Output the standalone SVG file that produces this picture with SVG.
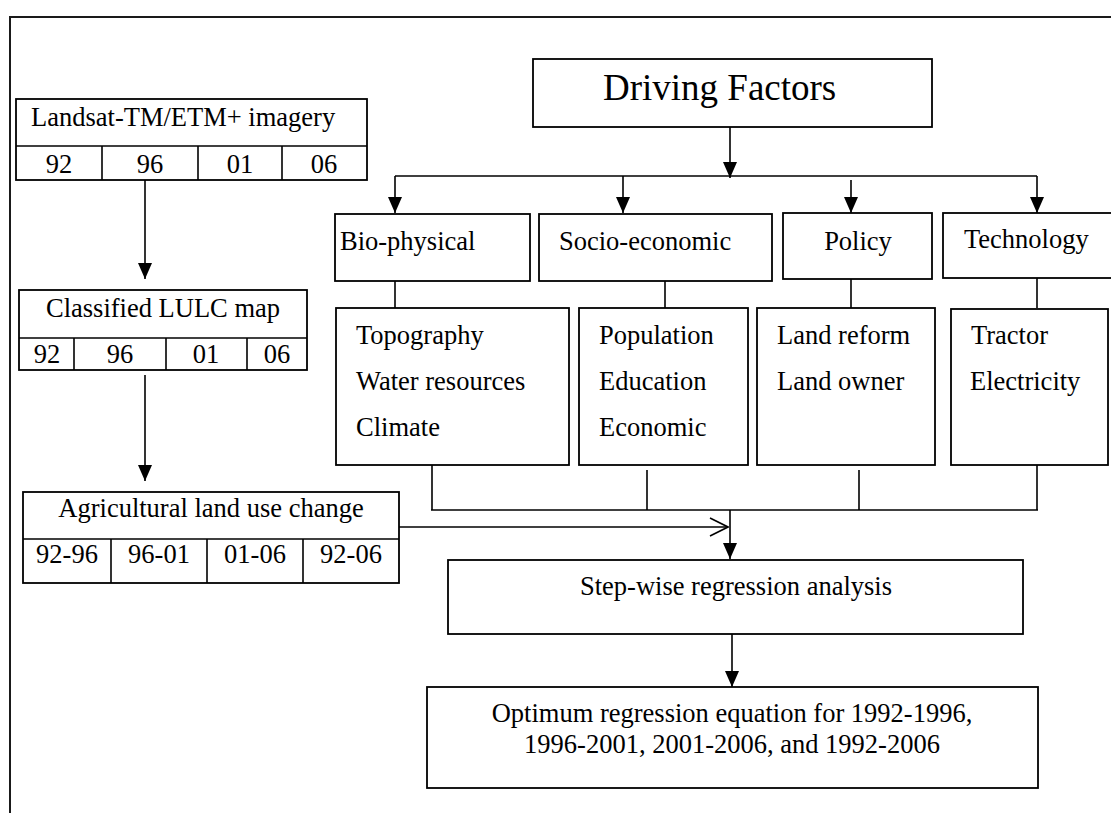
<svg xmlns="http://www.w3.org/2000/svg" width="1111" height="813" viewBox="0 0 1111 813">
  <style>
    .box { fill: #ffffff; stroke: #000000; stroke-width: 1.8; }
    .ln { fill: none; stroke: #000000; stroke-width: 1.6; }
    .frame { fill: none; stroke: #1a1a1a; stroke-width: 2; }
    text { font-family: "Liberation Serif", "Times New Roman", serif; font-size: 26.5px; fill: #000000; }
    .c { text-anchor: middle; }
    .big { font-size: 37px; }
  </style>
  <defs>
    <marker id="arrow" viewBox="0 0 16 14" refX="16" refY="7" markerWidth="16" markerHeight="14" markerUnits="userSpaceOnUse" orient="auto">
      <path d="M0,0 L16,7 L0,14 Z" fill="#000000"/>
    </marker>
    <marker id="open" viewBox="0 0 20 20" refX="19" refY="10" markerWidth="20" markerHeight="20" markerUnits="userSpaceOnUse" orient="auto">
      <path d="M1,1 L19,10 L1,19" fill="none" stroke="#000000" stroke-width="1.6"/>
    </marker>
  </defs>

  <rect width="1111" height="813" fill="#ffffff"/>

  <!-- page frame -->
  <path class="frame" d="M10,813 L10,17 L1111,17"/>

  <!-- connectors -->
  <g id="connectors">
    <line class="ln" x1="145" y1="180" x2="145" y2="279" marker-end="url(#arrow)"/>
    <line class="ln" x1="145" y1="375" x2="145" y2="481" marker-end="url(#arrow)"/>
    <line class="ln" x1="730" y1="127" x2="730" y2="178" marker-end="url(#arrow)"/>
    <line class="ln" x1="395" y1="176" x2="1037" y2="176"/>
    <line class="ln" x1="395" y1="176" x2="395" y2="213" marker-end="url(#arrow)"/>
    <line class="ln" x1="623" y1="176" x2="623" y2="213" marker-end="url(#arrow)"/>
    <line class="ln" x1="851" y1="180" x2="851" y2="213" marker-end="url(#arrow)"/>
    <line class="ln" x1="1037" y1="176" x2="1037" y2="213" marker-end="url(#arrow)"/>
    <line class="ln" x1="395" y1="280" x2="395" y2="308"/>
    <line class="ln" x1="665" y1="280" x2="665" y2="308"/>
    <line class="ln" x1="851" y1="279" x2="851" y2="308"/>
    <line class="ln" x1="1037" y1="278" x2="1037" y2="308"/>
    <line class="ln" x1="432" y1="465" x2="432" y2="510"/>
    <line class="ln" x1="647" y1="470" x2="647" y2="510"/>
    <line class="ln" x1="859" y1="470" x2="859" y2="510"/>
    <line class="ln" x1="1037" y1="465" x2="1037" y2="510"/>
    <line class="ln" x1="431" y1="510" x2="1038" y2="510"/>
    <line class="ln" x1="399" y1="527" x2="728" y2="527" marker-end="url(#open)"/>
    <line class="ln" x1="730" y1="510" x2="730" y2="559" marker-end="url(#arrow)"/>
    <line class="ln" x1="732" y1="634" x2="732" y2="687" marker-end="url(#arrow)"/>
  </g>

  <!-- imagery -->
  <g id="landsat">
    <rect class="box" x="16" y="99" width="351" height="81"/>
    <line class="ln" x1="16" y1="146" x2="367" y2="146"/>
    <line class="ln" x1="102" y1="146" x2="102" y2="180"/>
    <line class="ln" x1="198" y1="146" x2="198" y2="180"/>
    <line class="ln" x1="282" y1="146" x2="282" y2="180"/>
    <text x="31" y="126">Landsat-TM/ETM+ imagery</text>
    <text class="c" x="59" y="173">92</text>
    <text class="c" x="150" y="173">96</text>
    <text class="c" x="240" y="173">01</text>
    <text class="c" x="324" y="173">06</text>
  </g>

  <g id="classified">
    <rect class="box" x="19" y="290" width="288" height="80"/>
    <line class="ln" x1="19" y1="338" x2="307" y2="338"/>
    <line class="ln" x1="74" y1="338" x2="74" y2="370"/>
    <line class="ln" x1="166" y1="338" x2="166" y2="370"/>
    <line class="ln" x1="247" y1="338" x2="247" y2="370"/>
    <text class="c" x="163" y="317">Classified LULC map</text>
    <text class="c" x="47" y="363">92</text>
    <text class="c" x="120" y="363">96</text>
    <text class="c" x="206" y="363">01</text>
    <text class="c" x="277" y="363">06</text>
  </g>

  <g id="agri-change">
    <rect class="box" x="23" y="492" width="376" height="91"/>
    <line class="ln" x1="23" y1="539" x2="399" y2="539"/>
    <line class="ln" x1="111" y1="539" x2="111" y2="583"/>
    <line class="ln" x1="207" y1="539" x2="207" y2="583"/>
    <line class="ln" x1="303" y1="539" x2="303" y2="583"/>
    <text class="c" x="211" y="517">Agricultural land use change</text>
    <text class="c" x="67" y="563">92-96</text>
    <text class="c" x="159" y="563">96-01</text>
    <text class="c" x="255" y="563">01-06</text>
    <text class="c" x="351" y="563">92-06</text>
  </g>

  <!-- driving factors -->
  <g id="driving-factors">
    <rect class="box" x="533" y="59" width="399" height="68"/>
    <text class="big" x="603" y="100">Driving Factors</text>
  </g>

  <g id="bio-physical">
    <rect class="box" x="335" y="214" width="195" height="67"/>
    <text x="340" y="250">Bio-physical</text>
  </g>
  <g id="socio-economic">
    <rect class="box" x="539" y="214" width="233" height="67"/>
    <text x="559" y="250">Socio-economic</text>
  </g>
  <g id="policy">
    <rect class="box" x="783" y="213" width="149" height="66"/>
    <text class="c" x="858" y="250">Policy</text>
  </g>
  <g id="technology">
    <rect class="box" x="943" y="213" width="180" height="65"/>
    <text x="964" y="248">Technology</text>
  </g>

  <g id="bio-items">
    <rect class="box" x="336" y="308" width="233" height="157"/>
    <text x="356" y="344">Topography</text>
    <text x="356" y="390">Water resources</text>
    <text x="356" y="436">Climate</text>
  </g>
  <g id="socio-items">
    <rect class="box" x="579" y="308" width="169" height="157"/>
    <text x="599" y="344">Population</text>
    <text x="599" y="390">Education</text>
    <text x="599" y="436">Economic</text>
  </g>
  <g id="policy-items">
    <rect class="box" x="757" y="308" width="178" height="157"/>
    <text x="777" y="344">Land reform</text>
    <text x="777" y="390">Land owner</text>
  </g>
  <g id="technology-items">
    <rect class="box" x="951" y="309" width="157" height="156"/>
    <text x="971" y="344">Tractor</text>
    <text x="970" y="390">Electricity</text>
  </g>

  <!-- analysis -->
  <g id="stepwise">
    <rect class="box" x="448" y="560" width="575" height="74"/>
    <text class="c" x="736" y="595">Step-wise regression analysis</text>
  </g>

  <g id="optimum">
    <rect class="box" x="427" y="687" width="611" height="101"/>
    <text class="c" x="732" y="722">Optimum regression equation for 1992-1996,</text>
    <text class="c" x="732" y="753">1996-2001, 2001-2006, and 1992-2006</text>
  </g>
</svg>
